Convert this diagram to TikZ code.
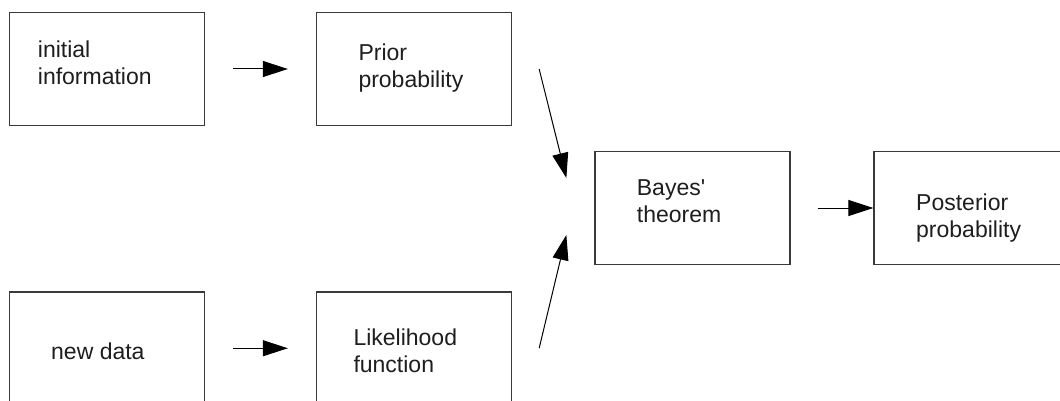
\documentclass[tikz,border=0pt]{standalone}
\usepackage{fontspec}
% plain straight quotes: no TeX input mapping
\setmainfont{Liberation Sans}[Ligatures=TeXOff]
\usetikzlibrary{arrows.meta}
\definecolor{boxline}{HTML}{3A3A3A}
\definecolor{inktext}{HTML}{1E1E1E}
% two left-aligned lines whose first baseline is the box baseline
\newcommand{\stacklines}[2]{\vtop{\baselineskip=27pt\hbox{#1}\hbox{#2}}}
\begin{document}
\begin{tikzpicture}[x=1pt,y=-1pt,
  stagebox/.style={draw=boxline,line width=1.3pt,rectangle,inner sep=0pt,
    minimum width=195pt,minimum height=112.5pt},
  boxtext/.style={anchor=base west,inner sep=0pt,text=inktext,
    font=\fontsize{23}{27}\selectfont},
  flow/.style={draw=black,line width=1pt,-{Triangle[length=25pt,width=16pt]}}]
\useasboundingbox[fill=white] (0,0) rectangle (1060,401);
\clip (0,0) rectangle (1060,401);

% stages of the inference
\node[stagebox] (init)  at (107,69)     {};
\node[stagebox] (prior) at (414,69)     {};
\node[stagebox] (bayes) at (692.5,208)  {};
\node[stagebox] (post)  at (971.5,208)  {};
\node[stagebox] (data)  at (107,348.25) {};
\node[stagebox] (like)  at (414,348.25) {};

% labels
\node[boxtext] (initT)  at (37.7,58)    {\stacklines{initial}{information}};
\node[boxtext] (priorT) at (358.3,60.7) {\stacklines{Prior}{probability}};
\node[boxtext] (bayesT) at (636.7,195)  {\stacklines{Bayes'}{theorem}};
\node[boxtext] (postT)  at (916,210.8)  {\stacklines{Posterior}{probability}};
\node[boxtext] (dataT)  at (51,359)     {new data};
\node[boxtext] (likeT)  at (353.3,345.7){\stacklines{Likelihood}{function}};

% connectors
\draw[flow] ([xshift=28pt]init.east) -- ([xshift=-28pt]prior.west);
\draw[flow] ([xshift=28pt]data.east) -- ([xshift=-28pt]like.west);
\draw[flow] ([xshift=27pt]prior.east) -- ([xshift=-28pt,yshift=30pt]bayes.west);
\draw[flow] ([xshift=27pt]like.east) -- ([xshift=-28pt,yshift=-27pt]bayes.west);
\draw[flow] ([xshift=27pt]bayes.east) -- (post.west);
\end{tikzpicture}
\end{document}
